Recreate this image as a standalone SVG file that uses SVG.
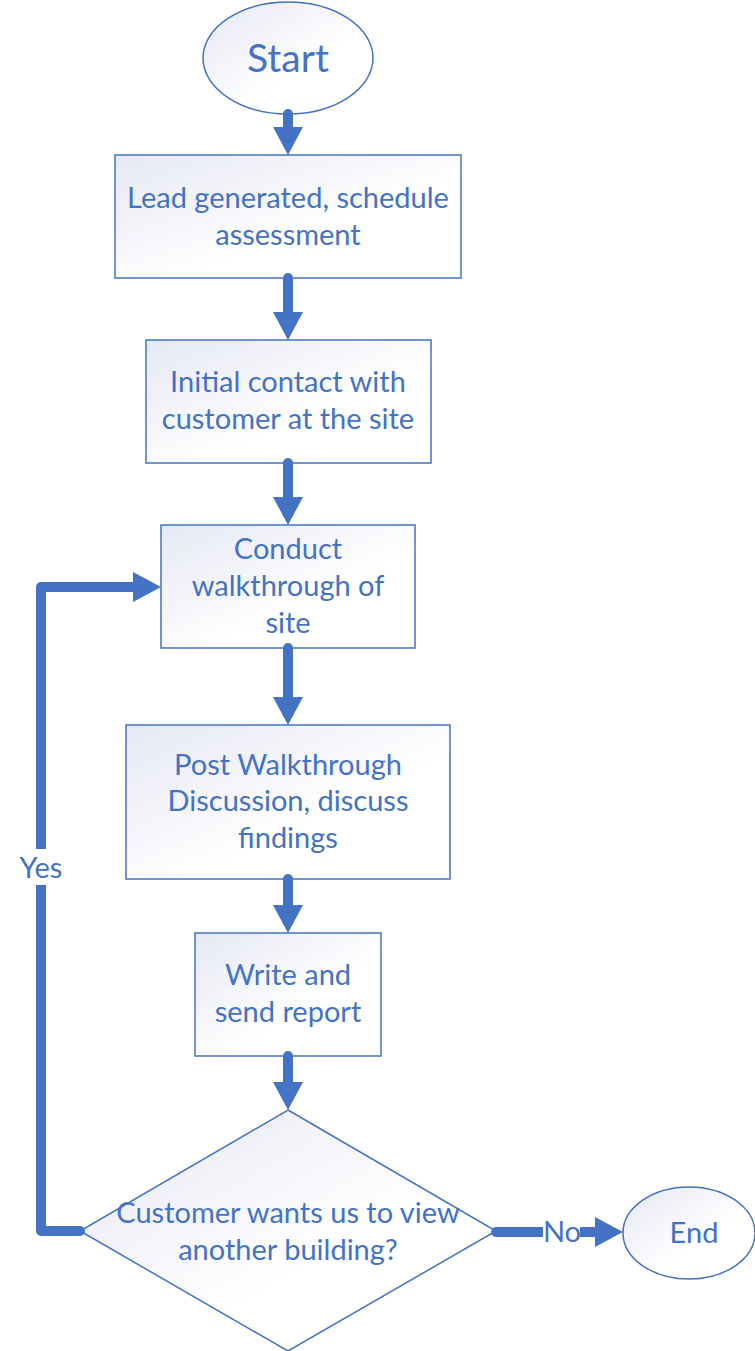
<svg xmlns="http://www.w3.org/2000/svg" width="755" height="1351" viewBox="0 0 755 1351">
<style>
.shape{fill:url(#g);stroke:#4472C4;stroke-width:1.5}
.t{font-family:Lato,"Liberation Sans",sans-serif;font-size:29px;fill:#4472C4;text-anchor:middle}
.c{fill:none;stroke:#4472C4;stroke-width:10;stroke-linecap:round;stroke-linejoin:round}
</style>
<defs>
<linearGradient id="g" x1="0" y1="0" x2="1" y2="1">
<stop offset="0" stop-color="#E6E8F4"/>
<stop offset="0.6" stop-color="#FFFFFF"/>
<stop offset="1" stop-color="#FFFFFF"/>
</linearGradient>
<marker id="ah" markerUnits="userSpaceOnUse" markerWidth="28" markerHeight="30" viewBox="0 -15 28 30" refX="0" refY="0" orient="auto">
<path d="M0,-15 L28,0 L0,15 z" fill="#4472C4"/>
</marker>
</defs>
<rect width="755" height="1351" fill="#FFFFFF"/>
<g id="start">
<ellipse class="shape" cx="288" cy="58" rx="85" ry="56"/>
<text class="t" x="288" y="72" style="font-size:39px">Start</text>
</g>
<g id="lead">
<rect class="shape" x="115" y="155" width="346" height="123"/>
<text class="t" x="288" y="208">Lead generated, schedule</text>
<text class="t" x="288" y="245">assessment</text>
</g>
<g id="contact">
<rect class="shape" x="146" y="340" width="285" height="123"/>
<text class="t" x="288" y="392">Initial contact with</text>
<text class="t" x="288" y="429">customer at the site</text>
</g>
<g id="walkthrough">
<rect class="shape" x="161" y="525" width="254" height="123"/>
<text class="t" x="288" y="559">Conduct</text>
<text class="t" x="288" y="596">walkthrough of</text>
<text class="t" x="288" y="633">site</text>
</g>
<g id="post">
<rect class="shape" x="126" y="725" width="324" height="154"/>
<text class="t" x="288" y="775">Post Walkthrough</text>
<text class="t" x="288" y="811">Discussion, discuss</text>
<text class="t" x="288" y="848">findings</text>
</g>
<g id="report">
<rect class="shape" x="195" y="933" width="186" height="123"/>
<text class="t" x="288" y="985">Write and</text>
<text class="t" x="288" y="1022">send report</text>
</g>
<g id="decision">
<polygon class="shape" points="288,1110 496,1231 288,1351 80,1231"/>
<text class="t" x="288" y="1223">Customer wants us to view</text>
<text class="t" x="288" y="1260">another building?</text>
</g>
<g id="end">
<ellipse class="shape" cx="689" cy="1233" rx="66" ry="46"/>
<text class="t" x="694" y="1243">End</text>
</g>
<g id="connectors">
<path class="c" d="M288,114 L288,127" marker-end="url(#ah)"/>
<path class="c" d="M288,278 L288,312" marker-end="url(#ah)"/>
<path class="c" d="M288,463 L288,497" marker-end="url(#ah)"/>
<path class="c" d="M288,648 L288,697" marker-end="url(#ah)"/>
<path class="c" d="M288,879 L288,905" marker-end="url(#ah)"/>
<path class="c" d="M288,1056 L288,1082" marker-end="url(#ah)"/>
<path class="c" d="M80,1231 L41,1231 L41,587 L133,587" marker-end="url(#ah)"/>
<rect x="16" y="849" width="50" height="36" fill="#FFFFFF"/>
<text class="t" x="41" y="878">Yes</text>
<path class="c" d="M496,1232 L595,1232" marker-end="url(#ah)"/>
<rect x="543" y="1215" width="37" height="34" fill="#FFFFFF"/>
<text class="t" x="562" y="1242">No</text>
</g>
</svg>
